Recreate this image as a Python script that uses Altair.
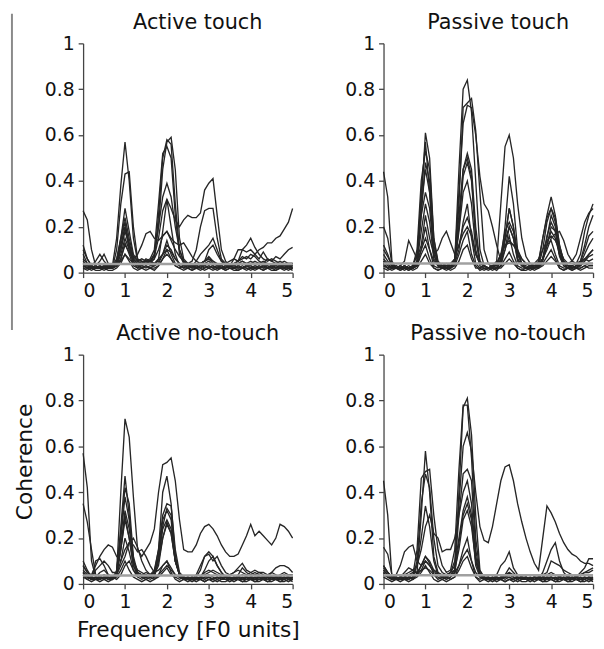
import altair as alt
import pandas as pd

FREQ = [i / 10 for i in range(51)]
TITLES = ["Active touch", "Passive touch", "Active no-touch", "Passive no-touch"]
THRESHOLDS = [0.038, 0.04, 0.037, 0.038]
X_TICKS = [0, 1, 2, 3, 4, 5]
Y_TICKS = [0, 0.2, 0.4, 0.6, 0.8, 1]

ACTIVE_TOUCH = [
    [0.05,0.03,0.02,0.02,0.03,0.02,0.02,0.03,0.15,0.38, 0.57,0.40,0.15,0.05,0.04,0.05,0.04,0.06,0.25,0.50,
     0.58,0.56,0.30,0.10,0.05,0.03,0.03,0.02,0.03,0.04, 0.05,0.03,0.02,0.02,0.03,0.02,0.02,0.03,0.04,0.03,
     0.02,0.03,0.04,0.03,0.02,0.03,0.04,0.03,0.02,0.03, 0.03],
    [0.10,0.06,0.03,0.02,0.02,0.03,0.02,0.02,0.10,0.30, 0.43,0.44,0.20,0.06,0.05,0.04,0.05,0.08,0.20,0.45,
     0.57,0.59,0.45,0.15,0.06,0.04,0.03,0.03,0.04,0.05, 0.06,0.04,0.03,0.02,0.02,0.03,0.03,0.02,0.02,0.03,
     0.03,0.02,0.02,0.03,0.03,0.02,0.02,0.03,0.02,0.02, 0.02],
    [0.04,0.03,0.02,0.03,0.02,0.02,0.03,0.03,0.06,0.15, 0.28,0.18,0.08,0.05,0.04,0.05,0.06,0.10,0.30,0.52,
     0.55,0.50,0.25,0.08,0.04,0.03,0.02,0.02,0.03,0.03, 0.04,0.03,0.02,0.02,0.02,0.03,0.02,0.02,0.03,0.02,
     0.02,0.02,0.03,0.02,0.02,0.03,0.02,0.02,0.02,0.03, 0.02],
    [0.12,0.06,0.03,0.02,0.02,0.02,0.03,0.02,0.05,0.15, 0.24,0.15,0.07,0.05,0.06,0.05,0.05,0.08,0.20,0.33,
     0.39,0.33,0.20,0.10,0.05,0.04,0.03,0.05,0.08,0.10, 0.12,0.15,0.10,0.05,0.03,0.03,0.04,0.05,0.07,0.06,
     0.08,0.07,0.05,0.04,0.06,0.05,0.04,0.03,0.03,0.04, 0.04],
    [0.03,0.02,0.02,0.02,0.03,0.02,0.02,0.03,0.04,0.12, 0.20,0.13,0.06,0.04,0.04,0.05,0.05,0.07,0.15,0.27,
     0.32,0.28,0.23,0.20,0.23,0.25,0.24,0.24,0.26,0.36, 0.39,0.41,0.25,0.10,0.05,0.03,0.03,0.04,0.05,0.04,
     0.04,0.05,0.04,0.03,0.04,0.03,0.04,0.05,0.04,0.03, 0.04],
    [0.04,0.03,0.04,0.03,0.02,0.03,0.03,0.02,0.04,0.10, 0.18,0.12,0.06,0.04,0.05,0.04,0.05,0.06,0.10,0.16,
     0.18,0.14,0.10,0.07,0.05,0.04,0.05,0.10,0.20,0.27, 0.28,0.28,0.15,0.06,0.04,0.03,0.03,0.04,0.05,0.04,
     0.05,0.04,0.04,0.05,0.04,0.03,0.03,0.04,0.03,0.03, 0.03],
    [0.02,0.02,0.03,0.02,0.02,0.03,0.02,0.02,0.03,0.05, 0.08,0.06,0.04,0.03,0.03,0.04,0.05,0.04,0.06,0.08,
     0.10,0.09,0.06,0.04,0.03,0.03,0.04,0.03,0.04,0.05, 0.06,0.05,0.04,0.03,0.04,0.05,0.06,0.05,0.06,0.07,
     0.06,0.08,0.10,0.11,0.13,0.13,0.15,0.16,0.19,0.22, 0.28],
    [0.27,0.23,0.10,0.03,0.02,0.03,0.02,0.02,0.03,0.06, 0.12,0.09,0.05,0.03,0.04,0.06,0.05,0.04,0.05,0.08,
     0.12,0.10,0.06,0.04,0.03,0.04,0.03,0.03,0.04,0.05, 0.07,0.05,0.03,0.03,0.02,0.03,0.04,0.05,0.10,0.12,
     0.15,0.11,0.08,0.06,0.05,0.06,0.05,0.04,0.05,0.04, 0.04],
    [0.06,0.04,0.03,0.05,0.08,0.05,0.03,0.02,0.03,0.08, 0.15,0.10,0.06,0.08,0.12,0.17,0.18,0.15,0.14,0.16,
     0.18,0.15,0.13,0.12,0.13,0.10,0.07,0.05,0.04,0.05, 0.10,0.12,0.08,0.05,0.04,0.03,0.06,0.10,0.10,0.09,
     0.10,0.08,0.06,0.09,0.06,0.05,0.07,0.06,0.08,0.10, 0.11],
    [0.02,0.01,0.02,0.01,0.01,0.02,0.01,0.01,0.02,0.04, 0.08,0.05,0.02,0.01,0.02,0.01,0.02,0.01,0.03,0.06,
     0.10,0.06,0.03,0.02,0.01,0.02,0.01,0.02,0.01,0.02, 0.03,0.02,0.01,0.02,0.01,0.02,0.01,0.01,0.02,0.01,
     0.02,0.01,0.02,0.01,0.02,0.01,0.01,0.02,0.01,0.02, 0.01],
    [0.04,0.02,0.03,0.02,0.03,0.02,0.03,0.02,0.03,0.06, 0.13,0.08,0.03,0.02,0.03,0.02,0.03,0.03,0.04,0.08,
     0.14,0.08,0.04,0.03,0.02,0.03,0.02,0.03,0.02,0.03, 0.02,0.03,0.02,0.03,0.02,0.03,0.02,0.03,0.02,0.03,
     0.03,0.02,0.03,0.02,0.03,0.02,0.03,0.02,0.03,0.02, 0.03],
    [0.08,0.04,0.02,0.03,0.05,0.08,0.04,0.02,0.05,0.14, 0.22,0.12,0.05,0.03,0.02,0.03,0.02,0.02,0.03,0.06,
     0.08,0.06,0.03,0.02,0.03,0.02,0.03,0.02,0.03,0.02, 0.03,0.02,0.03,0.02,0.03,0.02,0.02,0.03,0.02,0.03,
     0.02,0.03,0.02,0.03,0.02,0.03,0.02,0.03,0.02,0.03, 0.02],
    [0.03,0.02,0.01,0.02,0.02,0.01,0.02,0.02,0.03,0.10, 0.20,0.10,0.04,0.02,0.02,0.03,0.02,0.03,0.06,0.18,
     0.32,0.20,0.08,0.03,0.02,0.02,0.01,0.02,0.02,0.01, 0.02,0.01,0.02,0.02,0.01,0.02,0.02,0.01,0.02,0.02,
     0.01,0.02,0.02,0.01,0.02,0.02,0.01,0.02,0.02,0.01, 0.02],
]

PASSIVE_TOUCH = [
    [0.05,0.03,0.02,0.02,0.01,0.02,0.02,0.02,0.05,0.35, 0.57,0.35,0.08,0.03,0.02,0.02,0.02,0.05,0.45,0.80,
     0.84,0.70,0.40,0.10,0.03,0.02,0.02,0.02,0.03,0.10, 0.20,0.15,0.06,0.03,0.02,0.02,0.02,0.03,0.05,0.12,
     0.18,0.15,0.08,0.03,0.02,0.02,0.02,0.03,0.05,0.08, 0.10],
    [0.20,0.15,0.04,0.02,0.02,0.02,0.01,0.02,0.03,0.30, 0.61,0.50,0.15,0.04,0.02,0.02,0.03,0.04,0.30,0.72,
     0.74,0.76,0.62,0.35,0.10,0.04,0.02,0.02,0.03,0.15, 0.28,0.20,0.08,0.04,0.02,0.03,0.02,0.03,0.10,0.22,
     0.28,0.22,0.10,0.04,0.02,0.03,0.04,0.08,0.18,0.25, 0.30],
    [0.08,0.05,0.03,0.02,0.02,0.02,0.02,0.03,0.10,0.40, 0.53,0.45,0.15,0.05,0.03,0.03,0.03,0.06,0.35,0.65,
     0.73,0.72,0.60,0.42,0.30,0.27,0.20,0.12,0.05,0.20, 0.42,0.30,0.10,0.04,0.02,0.03,0.02,0.04,0.15,0.25,
     0.33,0.25,0.12,0.05,0.03,0.02,0.03,0.05,0.10,0.16, 0.18],
    [0.44,0.33,0.05,0.02,0.02,0.02,0.03,0.02,0.04,0.25, 0.48,0.40,0.12,0.04,0.03,0.02,0.03,0.04,0.20,0.45,
     0.52,0.45,0.20,0.05,0.03,0.02,0.03,0.05,0.30,0.55, 0.60,0.50,0.30,0.15,0.07,0.04,0.03,0.03,0.06,0.15,
     0.25,0.20,0.08,0.04,0.03,0.02,0.03,0.05,0.12,0.20, 0.25],
    [0.10,0.07,0.03,0.02,0.03,0.02,0.02,0.03,0.08,0.30, 0.45,0.35,0.10,0.04,0.03,0.04,0.03,0.04,0.20,0.42,
     0.48,0.40,0.15,0.05,0.03,0.02,0.03,0.03,0.08,0.18, 0.22,0.18,0.08,0.04,0.03,0.02,0.03,0.05,0.15,0.24,
     0.28,0.24,0.12,0.05,0.03,0.03,0.02,0.04,0.08,0.12, 0.15],
    [0.12,0.08,0.03,0.02,0.02,0.03,0.02,0.03,0.08,0.25, 0.35,0.28,0.08,0.03,0.04,0.03,0.04,0.05,0.25,0.45,
     0.50,0.42,0.15,0.04,0.03,0.02,0.03,0.03,0.06,0.15, 0.28,0.20,0.06,0.03,0.02,0.03,0.02,0.03,0.06,0.12,
     0.20,0.18,0.08,0.04,0.03,0.02,0.03,0.04,0.06,0.08, 0.10],
    [0.03,0.02,0.03,0.02,0.03,0.05,0.14,0.10,0.06,0.12, 0.25,0.15,0.08,0.10,0.15,0.18,0.13,0.08,0.12,0.20,
     0.24,0.18,0.08,0.04,0.03,0.02,0.03,0.04,0.08,0.12, 0.14,0.12,0.10,0.06,0.04,0.03,0.03,0.04,0.06,0.10,
     0.15,0.17,0.18,0.14,0.08,0.05,0.04,0.05,0.06,0.05, 0.06],
    [0.05,0.03,0.02,0.03,0.02,0.03,0.02,0.03,0.05,0.10, 0.15,0.10,0.05,0.03,0.02,0.03,0.04,0.06,0.12,0.17,
     0.20,0.16,0.08,0.04,0.03,0.02,0.02,0.04,0.08,0.12, 0.13,0.12,0.09,0.06,0.04,0.03,0.04,0.06,0.10,0.14,
     0.16,0.14,0.10,0.06,0.04,0.05,0.08,0.15,0.22,0.26, 0.28],
    [0.03,0.02,0.01,0.02,0.01,0.02,0.01,0.02,0.03,0.08, 0.12,0.06,0.02,0.01,0.02,0.01,0.02,0.03,0.08,0.14,
     0.18,0.08,0.03,0.01,0.02,0.01,0.02,0.01,0.03,0.06, 0.09,0.05,0.02,0.01,0.02,0.01,0.02,0.02,0.04,0.07,
     0.10,0.06,0.02,0.01,0.02,0.01,0.02,0.02,0.03,0.02, 0.02],
    [0.02,0.01,0.02,0.03,0.02,0.01,0.02,0.01,0.02,0.05, 0.08,0.04,0.02,0.01,0.02,0.02,0.01,0.02,0.05,0.10,
     0.12,0.06,0.02,0.02,0.01,0.02,0.01,0.02,0.02,0.04, 0.06,0.04,0.02,0.01,0.01,0.02,0.01,0.02,0.03,0.05,
     0.07,0.05,0.02,0.01,0.02,0.01,0.02,0.01,0.02,0.03, 0.03],
    [0.04,0.02,0.03,0.02,0.02,0.03,0.02,0.02,0.03,0.10, 0.20,0.10,0.03,0.02,0.03,0.02,0.02,0.04,0.10,0.22,
     0.30,0.15,0.04,0.02,0.03,0.02,0.02,0.02,0.05,0.10, 0.16,0.08,0.03,0.02,0.02,0.02,0.02,0.03,0.06,0.12,
     0.14,0.08,0.03,0.02,0.02,0.03,0.02,0.02,0.03,0.04, 0.04],
    [0.06,0.04,0.02,0.02,0.03,0.02,0.02,0.02,0.05,0.18, 0.30,0.22,0.06,0.03,0.02,0.03,0.02,0.04,0.18,0.35,
     0.40,0.30,0.10,0.03,0.02,0.02,0.03,0.02,0.05,0.14, 0.20,0.15,0.05,0.03,0.02,0.02,0.03,0.02,0.06,0.16,
     0.22,0.18,0.07,0.03,0.02,0.02,0.03,0.03,0.05,0.07, 0.08],
]

ACTIVE_NO_TOUCH = [
    [0.05,0.03,0.02,0.03,0.05,0.06,0.04,0.03,0.05,0.40, 0.72,0.64,0.38,0.15,0.12,0.15,0.18,0.24,0.40,0.52,
     0.53,0.55,0.45,0.28,0.15,0.14,0.14,0.17,0.22,0.25, 0.26,0.24,0.21,0.17,0.14,0.12,0.12,0.13,0.17,0.21,
     0.26,0.21,0.23,0.21,0.19,0.17,0.20,0.26,0.25,0.23, 0.20],
    [0.57,0.42,0.10,0.03,0.02,0.03,0.02,0.03,0.04,0.15, 0.30,0.20,0.08,0.04,0.03,0.04,0.03,0.04,0.08,0.20,
     0.27,0.22,0.10,0.04,0.03,0.02,0.03,0.02,0.03,0.06, 0.10,0.12,0.08,0.05,0.03,0.03,0.02,0.03,0.04,0.03,
     0.03,0.04,0.03,0.03,0.02,0.03,0.03,0.02,0.03,0.02, 0.03],
    [0.35,0.27,0.15,0.04,0.03,0.02,0.03,0.02,0.05,0.25, 0.47,0.30,0.10,0.05,0.04,0.05,0.04,0.05,0.15,0.40,
     0.47,0.35,0.12,0.04,0.03,0.02,0.03,0.02,0.03,0.05, 0.06,0.05,0.04,0.03,0.03,0.02,0.03,0.03,0.02,0.03,
     0.02,0.03,0.03,0.02,0.03,0.03,0.02,0.03,0.02,0.03, 0.02],
    [0.10,0.06,0.03,0.02,0.03,0.04,0.03,0.02,0.06,0.22, 0.42,0.35,0.12,0.05,0.04,0.03,0.04,0.06,0.15,0.30,
     0.35,0.34,0.15,0.05,0.03,0.02,0.02,0.03,0.02,0.03, 0.04,0.03,0.02,0.03,0.02,0.02,0.03,0.02,0.02,0.03,
     0.02,0.02,0.03,0.02,0.02,0.03,0.02,0.02,0.03,0.02, 0.02],
    [0.08,0.05,0.03,0.06,0.08,0.10,0.08,0.05,0.05,0.20, 0.38,0.28,0.10,0.05,0.04,0.04,0.03,0.04,0.12,0.28,
     0.32,0.28,0.10,0.04,0.02,0.03,0.02,0.02,0.03,0.02, 0.03,0.02,0.03,0.02,0.02,0.03,0.02,0.03,0.02,0.02,
     0.03,0.02,0.02,0.03,0.02,0.02,0.03,0.02,0.02,0.03, 0.02],
    [0.06,0.04,0.02,0.03,0.02,0.03,0.04,0.03,0.04,0.16, 0.32,0.24,0.10,0.06,0.05,0.04,0.03,0.05,0.12,0.24,
     0.28,0.24,0.10,0.04,0.03,0.02,0.02,0.03,0.06,0.12, 0.14,0.12,0.08,0.05,0.03,0.03,0.02,0.04,0.07,0.05,
     0.04,0.05,0.04,0.03,0.04,0.03,0.03,0.04,0.05,0.04, 0.04],
    [0.08,0.05,0.04,0.08,0.12,0.15,0.17,0.16,0.12,0.10, 0.15,0.18,0.17,0.14,0.15,0.12,0.08,0.05,0.06,0.08,
     0.10,0.07,0.04,0.03,0.02,0.03,0.02,0.03,0.02,0.03, 0.03,0.02,0.03,0.02,0.03,0.02,0.03,0.02,0.03,0.02,
     0.03,0.02,0.03,0.02,0.03,0.02,0.03,0.02,0.03,0.02, 0.03],
    [0.04,0.03,0.02,0.10,0.11,0.08,0.04,0.03,0.04,0.08, 0.12,0.18,0.20,0.16,0.10,0.06,0.04,0.03,0.04,0.06,
     0.08,0.06,0.04,0.03,0.02,0.03,0.02,0.04,0.08,0.12, 0.13,0.10,0.12,0.08,0.05,0.04,0.05,0.07,0.09,0.06,
     0.05,0.04,0.05,0.04,0.03,0.05,0.07,0.08,0.08,0.07, 0.05],
    [0.05,0.03,0.02,0.02,0.03,0.02,0.03,0.02,0.05,0.15, 0.28,0.20,0.08,0.04,0.03,0.03,0.04,0.05,0.10,0.20,
     0.26,0.22,0.10,0.04,0.03,0.02,0.03,0.02,0.03,0.04, 0.05,0.06,0.05,0.04,0.03,0.04,0.05,0.06,0.05,0.04,
     0.05,0.06,0.05,0.05,0.04,0.05,0.04,0.03,0.04,0.03, 0.03],
    [0.03,0.02,0.01,0.02,0.01,0.02,0.01,0.02,0.03,0.06, 0.10,0.06,0.03,0.02,0.01,0.02,0.01,0.02,0.04,0.08,
     0.10,0.05,0.02,0.01,0.02,0.01,0.02,0.01,0.02,0.01, 0.02,0.01,0.02,0.01,0.01,0.02,0.01,0.02,0.01,0.01,
     0.02,0.01,0.01,0.02,0.01,0.01,0.02,0.01,0.01,0.02, 0.01],
    [0.05,0.03,0.02,0.03,0.02,0.03,0.02,0.03,0.02,0.04, 0.08,0.10,0.06,0.04,0.03,0.02,0.03,0.02,0.03,0.05,
     0.07,0.04,0.03,0.02,0.03,0.02,0.03,0.02,0.03,0.02, 0.03,0.02,0.03,0.02,0.03,0.02,0.02,0.03,0.02,0.03,
     0.02,0.03,0.02,0.02,0.03,0.02,0.03,0.02,0.02,0.03, 0.02],
    [0.04,0.02,0.03,0.02,0.02,0.03,0.02,0.02,0.04,0.10, 0.20,0.14,0.06,0.03,0.02,0.03,0.02,0.03,0.10,0.25,
     0.33,0.30,0.12,0.04,0.02,0.02,0.01,0.02,0.02,0.01, 0.02,0.02,0.01,0.02,0.02,0.01,0.02,0.02,0.01,0.02,
     0.02,0.01,0.02,0.02,0.01,0.02,0.02,0.01,0.02,0.01, 0.02],
]

PASSIVE_NO_TOUCH = [
    [0.45,0.30,0.03,0.02,0.02,0.02,0.03,0.02,0.05,0.30, 0.58,0.40,0.12,0.05,0.03,0.02,0.03,0.05,0.40,0.77,
     0.81,0.65,0.30,0.06,0.03,0.02,0.02,0.02,0.03,0.04, 0.05,0.04,0.03,0.02,0.02,0.02,0.03,0.02,0.02,0.03,
     0.03,0.02,0.02,0.03,0.02,0.02,0.03,0.02,0.02,0.03, 0.02],
    [0.08,0.05,0.03,0.02,0.03,0.02,0.03,0.04,0.15,0.46, 0.49,0.50,0.30,0.15,0.08,0.05,0.06,0.15,0.50,0.78,
     0.78,0.55,0.20,0.05,0.03,0.02,0.02,0.03,0.02,0.03, 0.04,0.03,0.02,0.03,0.02,0.02,0.03,0.02,0.03,0.02,
     0.03,0.02,0.03,0.02,0.02,0.03,0.02,0.02,0.03,0.02, 0.02],
    [0.06,0.04,0.02,0.03,0.02,0.03,0.02,0.03,0.10,0.35, 0.48,0.42,0.20,0.08,0.05,0.04,0.05,0.10,0.35,0.60,
     0.66,0.58,0.40,0.25,0.19,0.18,0.25,0.35,0.45,0.51, 0.52,0.45,0.35,0.27,0.20,0.14,0.09,0.06,0.20,0.34,
     0.31,0.27,0.22,0.18,0.15,0.13,0.12,0.10,0.09,0.09, 0.08],
    [0.16,0.13,0.04,0.02,0.03,0.02,0.02,0.03,0.08,0.20, 0.34,0.25,0.10,0.04,0.03,0.03,0.04,0.06,0.30,0.48,
     0.50,0.45,0.15,0.04,0.02,0.03,0.02,0.03,0.02,0.03, 0.03,0.02,0.03,0.02,0.03,0.02,0.02,0.03,0.02,0.03,
     0.02,0.03,0.02,0.02,0.03,0.02,0.03,0.02,0.02,0.03, 0.02],
    [0.07,0.05,0.03,0.02,0.03,0.04,0.05,0.06,0.08,0.15, 0.25,0.30,0.22,0.20,0.14,0.15,0.15,0.20,0.30,0.40,
     0.45,0.35,0.12,0.04,0.03,0.02,0.03,0.02,0.03,0.03, 0.04,0.03,0.02,0.03,0.02,0.03,0.02,0.03,0.02,0.02,
     0.03,0.02,0.02,0.03,0.02,0.02,0.03,0.02,0.03,0.02, 0.03],
    [0.05,0.03,0.02,0.04,0.08,0.14,0.16,0.17,0.10,0.08, 0.10,0.08,0.05,0.04,0.03,0.04,0.05,0.08,0.20,0.32,
     0.38,0.30,0.10,0.04,0.03,0.02,0.03,0.02,0.03,0.02, 0.03,0.02,0.03,0.02,0.03,0.02,0.03,0.02,0.05,0.10,
     0.15,0.18,0.10,0.05,0.03,0.04,0.03,0.04,0.05,0.06, 0.07],
    [0.04,0.03,0.02,0.03,0.02,0.03,0.04,0.05,0.05,0.08, 0.12,0.10,0.06,0.04,0.03,0.04,0.05,0.06,0.15,0.28,
     0.32,0.25,0.10,0.04,0.03,0.03,0.02,0.04,0.08,0.10, 0.14,0.07,0.04,0.03,0.03,0.02,0.03,0.03,0.04,0.05,
     0.10,0.09,0.08,0.06,0.05,0.04,0.03,0.04,0.05,0.05, 0.06],
    [0.08,0.05,0.03,0.02,0.03,0.05,0.07,0.06,0.05,0.06, 0.10,0.08,0.06,0.05,0.04,0.03,0.04,0.05,0.08,0.12,
     0.15,0.10,0.05,0.03,0.02,0.03,0.02,0.03,0.02,0.04, 0.07,0.05,0.03,0.02,0.03,0.02,0.03,0.02,0.03,0.04,
     0.05,0.04,0.03,0.04,0.03,0.02,0.03,0.05,0.07,0.11, 0.11],
    [0.03,0.02,0.01,0.02,0.01,0.02,0.01,0.02,0.03,0.05, 0.08,0.05,0.02,0.01,0.02,0.01,0.02,0.03,0.08,0.15,
     0.20,0.10,0.03,0.01,0.02,0.01,0.02,0.01,0.02,0.01, 0.02,0.01,0.02,0.01,0.01,0.02,0.01,0.02,0.01,0.01,
     0.02,0.01,0.01,0.02,0.01,0.01,0.02,0.01,0.01,0.02, 0.01],
    [0.05,0.03,0.02,0.03,0.02,0.03,0.02,0.03,0.04,0.06, 0.07,0.06,0.04,0.03,0.02,0.03,0.02,0.03,0.06,0.10,
     0.12,0.07,0.03,0.02,0.03,0.02,0.02,0.03,0.02,0.03, 0.05,0.03,0.02,0.03,0.02,0.02,0.03,0.02,0.03,0.02,
     0.03,0.02,0.03,0.02,0.02,0.03,0.02,0.03,0.02,0.03, 0.03],
    [0.06,0.04,0.02,0.02,0.03,0.02,0.03,0.02,0.04,0.08, 0.12,0.09,0.04,0.02,0.03,0.02,0.03,0.05,0.18,0.30,
     0.35,0.28,0.08,0.03,0.02,0.02,0.01,0.02,0.02,0.01, 0.02,0.02,0.01,0.02,0.02,0.01,0.02,0.02,0.01,0.02,
     0.02,0.01,0.02,0.02,0.01,0.02,0.02,0.01,0.02,0.01, 0.02],
]

PANELS = [ACTIVE_TOUCH, PASSIVE_TOUCH, ACTIVE_NO_TOUCH, PASSIVE_NO_TOUCH]

FONT = "DejaVu Sans"
W, H = 212, 232
TITLE_OFFSETS = [-20, 2, 2, 2]


def panel(idx):
    rows = []
    for k, vals in enumerate(PANELS[idx]):
        for f, v in zip(FREQ, vals):
            rows.append({"line": k, "freq": f, "coh": v})
    df = pd.DataFrame(rows)
    show_titles = idx == 2
    x = alt.X(
        "freq:Q",
        scale=alt.Scale(domain=[0, 5], nice=False, zero=False),
        axis=alt.Axis(values=X_TICKS, format="d"),
        title="Frequency [F0 units]" if show_titles else None,
    )
    if show_titles:
        y_axis = alt.Axis(values=Y_TICKS, format="~g", titleY=108)
    else:
        y_axis = alt.Axis(values=Y_TICKS, format="~g")
    y = alt.Y(
        "coh:Q",
        scale=alt.Scale(domain=[0, 1], nice=False),
        axis=y_axis,
        title="Coherence" if show_titles else None,
    )
    lines = alt.Chart(df).mark_line(color="#262626", strokeWidth=1.35).encode(
        x=x, y=y, detail="line:N"
    )
    thr = alt.Chart(pd.DataFrame({"thr": [THRESHOLDS[idx]]})).mark_rule(
        color="#a0a0a0", strokeWidth=2.5
    ).encode(y=alt.Y("thr:Q"))
    layers = [lines, thr]
    if idx == 0:
        edge = alt.Chart(pd.DataFrame({"a": [0]})).mark_rule(
            color="#8a8a8a", strokeWidth=2
        ).encode(x=alt.value(-72), y=alt.value(-30), y2=alt.value(290))
        layers.append(edge)
    return alt.layer(*layers).properties(
        width=W,
        height=H,
        title=alt.TitleParams(
            text=TITLES[idx], font=FONT, fontSize=21, fontWeight="normal",
            color="#111111", anchor="middle", dx=10, offset=TITLE_OFFSETS[idx],
        ),
    )


chart = alt.concat(
    *[panel(i) for i in range(4)], columns=2, spacing={"row": -8, "column": 45}
).properties(
    padding={"left": 3, "top": 0, "right": 0, "bottom": 0}
).configure_view(strokeWidth=0).configure_axis(
    grid=False,
    labelFont=FONT,
    labelFontSize=19,
    labelColor="#111111",
    labelPadding=4,
    domainColor="#444444",
    domainWidth=1.3,
    tickColor="#444444",
    tickWidth=1.3,
    tickSize=5,
    titleFont=FONT,
    titleFontSize=22,
    titleFontWeight="normal",
    titleColor="#111111",
    titlePadding=8,
)

chart.save("out.html", embed_options={"renderer": "svg", "actions": False})
